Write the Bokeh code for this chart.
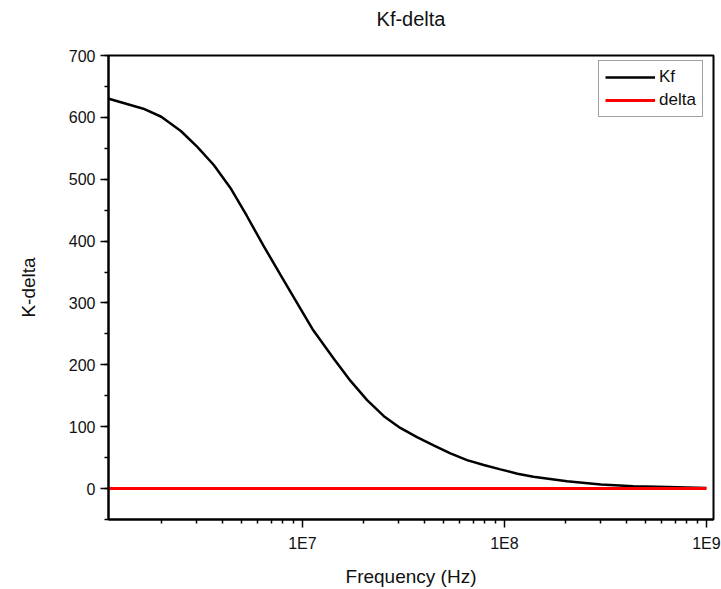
from bokeh.plotting import figure
from bokeh.models import Range1d, FixedTicker, SingleIntervalTicker, Legend, LegendItem, CustomJSTickFormatter, Title
from bokeh.embed import file_html
from bokeh.resources import INLINE

# Frequency (Hz) sample points
freq = [1.1e6, 1.63e6, 2.0e6, 2.5e6, 3.0e6, 3.64e6, 4.4e6, 5.3e6, 6.4e6, 7.8e6,
        9.4e6, 1.12e7, 1.43e7, 1.73e7, 2.09e7, 2.53e7, 3.05e7, 3.69e7, 4.46e7,
        5.4e7, 6.53e7, 7.9e7, 9.55e7, 1.16e8, 1.39e8, 2.04e8, 3.0e8, 4.35e8,
        6.4e8, 1.0e9]
kf = [630, 614, 601, 578, 553, 523, 486, 441, 393, 345,
      300, 258, 210, 174, 143, 117, 98, 83, 70,
      57, 46, 38, 31, 24, 19, 12, 6.5, 3.7,
      2.6, 1.0]
delta = [0, 0, 0, 0, 0, 0, 0, 0, 0, 0,
         0, 0, 0, 0, 0, 0, 0, 0, 0,
         0, 0, 0, 0, 0, 0, 0, 0, 0,
         0, 0]

title_text = "Kf-delta"
x_major = [1e7, 1e8, 1e9]
x_minor = [m * 10 ** e for e in (6, 7, 8) for m in range(2, 10)]

FONT = "Liberation Sans"

p = figure(width=721, height=589, x_axis_type="log",
           x_range=Range1d(1.096e6, 1.084e9), y_range=Range1d(-50, 700),
           output_backend="svg", toolbar_location=None,
           min_border_left=108, min_border_right=8, min_border_top=55, min_border_bottom=69)
p.title.text = ""

r_kf = p.line(freq, kf, line_color="black", line_width=2.5)
r_delta = p.line(freq, delta, line_color="#ff0000", line_width=3)

# spacer (nearest the frame) then the visible chart title
p.add_layout(Title(text=" ", text_font_size="6px", standoff=18), "above")
p.add_layout(Title(text=title_text, align="center", text_font=FONT, text_font_size="20px",
                   text_font_style="normal", text_color="#111111", standoff=0), "above")

legend = Legend(items=[LegendItem(label="Kf", renderers=[r_kf]),
                       LegendItem(label="delta", renderers=[r_delta])],
                location=(490, 402), margin=0, padding=6, spacing=3,
                glyph_width=50, glyph_height=20, label_height=20, label_standoff=4,
                label_text_font=FONT, label_text_font_size="17px", label_text_color="#111111",
                border_line_color="#444444", border_line_width=1.5,
                background_fill_alpha=1)
p.add_layout(legend)

p.grid.visible = False
p.outline_line_color = "black"
p.outline_line_width = 2
p.outline_line_alpha = 1
p.background_fill_color = "white"
p.border_fill_color = "white"

p.xaxis.ticker = FixedTicker(ticks=x_major, minor_ticks=x_minor)
p.xaxis.formatter = CustomJSTickFormatter(code="return '1E' + Math.round(Math.log10(tick));")
p.yaxis.ticker = SingleIntervalTicker(interval=100, num_minor_ticks=2)

for ax in (p.xaxis, p.yaxis):
    ax.axis_line_width = 2
    ax.axis_line_color = "black"
    ax.major_tick_in = 0
    ax.major_tick_out = 8
    ax.minor_tick_in = 0
    ax.minor_tick_out = 4
    ax.major_tick_line_width = 1.5
    ax.minor_tick_line_width = 1.5
    ax.major_tick_line_color = "black"
    ax.minor_tick_line_color = "black"
    ax.major_label_text_font = FONT
    ax.major_label_text_font_size = "16px"
    ax.major_label_text_color = "#111111"
    ax.axis_label_text_font = FONT
    ax.axis_label_text_font_size = "19px"
    ax.axis_label_text_font_style = "normal"
    ax.axis_label_text_color = "#111111"

p.xaxis.axis_label = "Frequency (Hz)"
p.yaxis.axis_label = "K-delta"
p.xaxis.major_label_standoff = 7
p.xaxis.axis_label_standoff = 11
p.yaxis.major_label_standoff = 5
p.yaxis.axis_label_standoff = 27

open("out.html", "w").write(file_html(p, INLINE))
